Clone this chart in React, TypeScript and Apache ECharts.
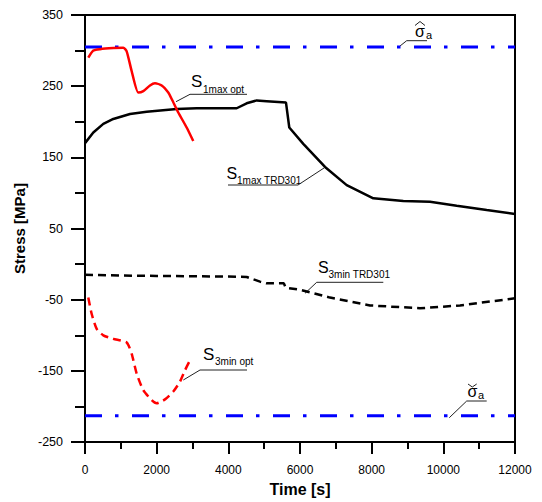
import React, { useEffect, useRef } from "react";
import * as echarts from "echarts";

const xTicks = { min: 0, max: 12000, interval: 2000 };
const yTicks = { min: -250, max: 350, interval: 100 };

const s1maxOpt: [number, number][] = [
  [92, 290], [232, 300], [419, 302], [790, 303.5], [1069, 304], [1163, 299],
  [1303, 271], [1487, 241], [1627, 243], [1814, 251], [1953, 254], [2140, 251],
  [2324, 241], [2419, 232], [2603, 213], [2837, 192], [3021, 173],
];

const s1maxTRD: [number, number][] = [
  [0, 170], [232, 185], [511, 197], [790, 204], [1256, 211], [1722, 214],
  [2559, 218], [3117, 219], [4233, 219], [4512, 226], [4791, 230], [5070, 229],
  [5609, 227], [5701, 192], [6092, 169], [6698, 136.5], [7303, 111], [8046, 92.4],
  [8883, 88.7], [9628, 87.8], [10373, 82], [11210, 76], [12000, 70.5],
];

const s3minTRD: [number, number][] = [
  [0, -15], [1000, -16], [2000, -16.5], [3000, -17], [4000, -17.5], [4512, -18],
  [4884, -24.6], [5070, -27], [5550, -27], [5600, -33], [6000, -36], [6837, -47],
  [7953, -58], [9349, -62], [10465, -58], [12000, -48],
];

const s3minOpt: [number, number][] = [
  [92, -47], [187, -70], [326, -91], [511, -100], [790, -105], [1163, -110],
  [1303, -126], [1443, -154], [1627, -177], [1861, -191], [2001, -195.5],
  [2233, -190], [2464, -179], [2651, -165], [2791, -149], [2930, -135],
];

const sigmaUpper = 305;
const sigmaLower = -213;
const timeSpan = [0, 12000];

const FONT = "'Liberation Sans', Arial, sans-serif";

function txt(text: string, x: number, y: number, size: number, bold = false) {
  return {
    type: "text",
    x,
    y,
    silent: true,
    style: {
      text,
      font: `${bold ? "bold " : ""}${size}px ${FONT}`,
      fill: "#000",
      align: "left",
      verticalAlign: "middle",
      textAlign: "left",
      textVerticalAlign: "middle",
    },
  };
}

function leader(points: number[][]) {
  return {
    type: "polyline",
    silent: true,
    shape: { points },
    style: { stroke: "#222", lineWidth: 1, fill: null },
  };
}

export default function App() {
  const ref = useRef<HTMLDivElement>(null);
  useEffect(() => {
    if (!ref.current) return;
    const chart = echarts.init(ref.current, null, { renderer: "svg" });
    const lineBase = { type: "line", symbol: "none", showSymbol: false, silent: true };
    chart.setOption({
      animation: false,
      backgroundColor: "#fff",
      grid: {
        left: 85, right: 27, top: 15, bottom: 56,
        show: true, borderColor: "#000", borderWidth: 2, backgroundColor: "transparent",
      },
      xAxis: {
        type: "value",
        ...xTicks,
        name: "Time [s]",
        nameLocation: "middle",
        nameGap: 37,
        nameTextStyle: { fontFamily: FONT, fontWeight: "bold", fontSize: 16, color: "#000" },
        axisLine: { onZero: false, lineStyle: { color: "#000", width: 2 } },
        axisTick: { show: true, length: 12, lineStyle: { color: "#000", width: 2 } },
        minorTick: { show: true, splitNumber: 2, length: 7, lineStyle: { color: "#000", width: 2 } },
        splitLine: { show: false },
        axisLabel: {
          fontFamily: FONT, fontSize: 12, color: "#000", margin: 22,
          formatter: (v: number) => String(v),
        },
      },
      yAxis: {
        type: "value",
        ...yTicks,
        name: "Stress [MPa]",
        nameLocation: "middle",
        nameGap: 52,
        nameTextStyle: { fontFamily: FONT, fontWeight: "bold", fontSize: 15, color: "#000" },
        axisLine: { onZero: false, lineStyle: { color: "#000", width: 2 } },
        axisTick: { show: true, length: 14, lineStyle: { color: "#000", width: 2 } },
        minorTick: { show: true, splitNumber: 2, length: 10, lineStyle: { color: "#000", width: 2 } },
        splitLine: { show: false },
        axisLabel: {
          fontFamily: FONT, fontSize: 12.5, color: "#000", margin: 22,
          formatter: (v: number) => String(v),
        },
      },
      series: [
        {
          ...lineBase,
          name: "sigma upper",
          data: timeSpan.map((t) => [t, sigmaUpper]),
          lineStyle: { color: "#0000ff", width: 3, type: [17, 13, 3.5, 13.5] },
        },
        {
          ...lineBase,
          name: "sigma lower",
          data: timeSpan.map((t) => [t, sigmaLower]),
          lineStyle: { color: "#0000ff", width: 3, type: [17, 13, 3.5, 13.5] },
        },
        {
          ...lineBase,
          name: "S1max TRD301",
          data: s1maxTRD,
          lineStyle: { color: "#000", width: 2.5 },
        },
        {
          ...lineBase,
          name: "S3min TRD301",
          data: s3minTRD,
          lineStyle: { color: "#000", width: 2.5, type: [8, 5] },
        },
        {
          ...lineBase,
          name: "S1max opt",
          data: s1maxOpt,
          smooth: 0.2,
          lineStyle: { color: "#ff0000", width: 2.5 },
        },
        {
          ...lineBase,
          name: "S3min opt",
          data: s3minOpt,
          smooth: 0.2,
          lineStyle: { color: "#ff0000", width: 2.5, type: [8, 5] },
        },
      ],
      graphic: [
        // sigma hat a
        txt("σ", 415, 31, 16),
        txt("a", 426, 35, 11),
        leader([[415, 25.5], [420, 21.5], [425, 25.5]]),
        leader([[400, 46], [406.7, 40.7], [427, 40.7]]),
        // sigma check a
        txt("σ", 467.5, 391, 16),
        txt("a", 478, 395, 11),
        leader([[468, 384], [472.3, 387], [476.7, 384]]),
        leader([[449.3, 417.7], [466.7, 401], [486.7, 401]]),
        // S1max opt
        txt("S", 191, 81.5, 17),
        txt("1max opt", 203, 89.5, 10),
        leader([[176, 101.7], [190, 94.3], [247, 94.3]]),
        // S1max TRD301
        txt("S", 226.5, 173, 16),
        txt("1max TRD301", 237, 180, 10),
        leader([[228, 185], [298, 185], [324, 168]]),
        // S3min TRD301
        txt("S", 318, 267, 16),
        txt("3min TRD301", 328.5, 274, 10),
        leader([[305, 293.3], [316.7, 282.3], [383.3, 282.3]]),
        // S3min opt
        txt("S", 203, 354, 17),
        txt("3min opt", 215, 361, 10),
        leader([[183.3, 380], [200, 370], [247, 370]]),
      ],
    });
    return () => chart.dispose();
  }, []);
  return (
    <div
      ref={ref}
      style={{ position: "fixed", left: 0, top: 0, width: 542, height: 502 }}
    />
  );
}
